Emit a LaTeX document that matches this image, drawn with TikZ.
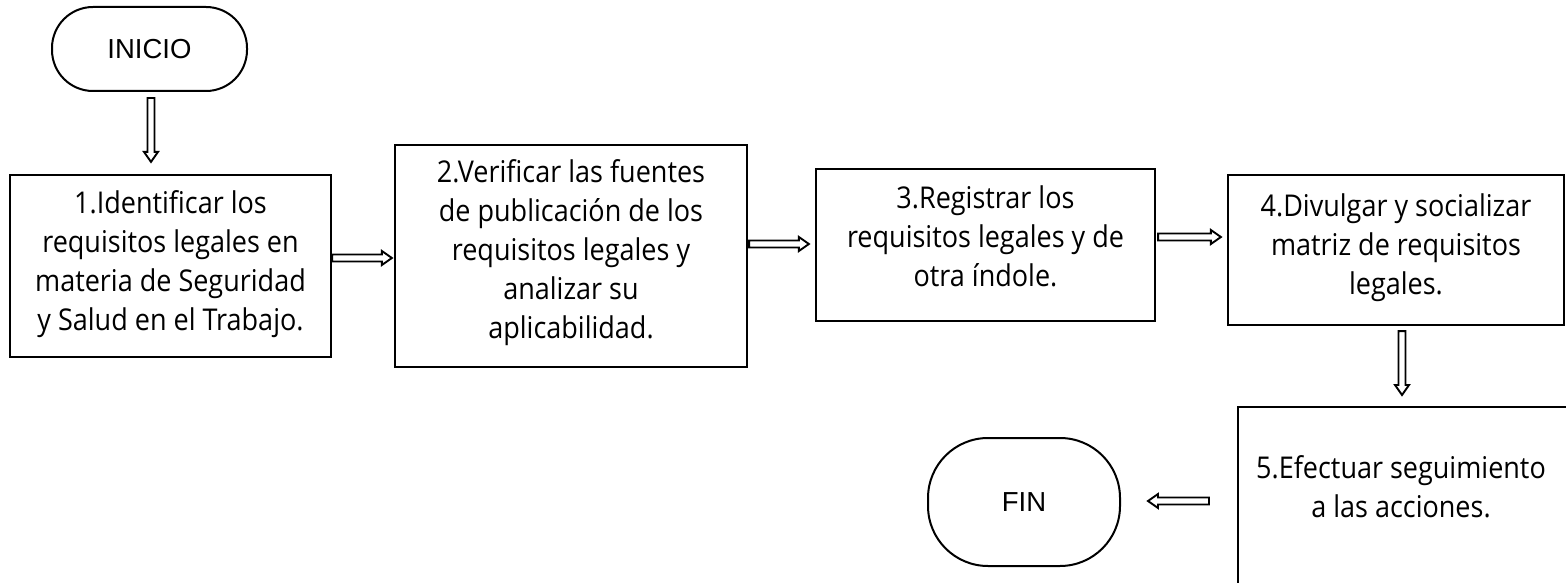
\documentclass[tikz,border=0pt]{standalone}
\usepackage{fontspec}
\setmainfont{Liberation Sans}
\newfontfamily\boxfont[FakeStretch=0.9]{Open Sans}
\usetikzlibrary{calc}
\begin{document}
\begin{tikzpicture}[x=1pt,y=-1pt,
  box/.style={draw, line width=2.2pt, rectangle, inner sep=0pt},
  boxtext/.style={font=\boxfont\fontsize{30}{39}\selectfont, align=center, inner sep=0pt},
  term/.style={draw, line width=2pt, rectangle, font=\fontsize{27.5}{30}\selectfont},
  blockarrow/.style={draw, line width=1.9pt, line join=miter,
    to path={let \p1=(\tikztostart), \p2=(\tikztotarget),
      \n1={veclen(\x2-\x1,\y2-\y1)}, \n2={atan2(\y2-\y1,\x2-\x1)} in
      ([shift={(\p1)},rotate=\n2]0pt,3.5pt)
      -- ([shift={(\p1)},rotate=\n2]{\n1-10pt},3.5pt)
      -- ([shift={(\p1)},rotate=\n2]{\n1-10pt},7pt)
      -- ([shift={(\p1)},rotate=\n2]{\n1},0pt)
      -- ([shift={(\p1)},rotate=\n2]{\n1-10pt},-7pt)
      -- ([shift={(\p1)},rotate=\n2]{\n1-10pt},-3.5pt)
      -- ([shift={(\p1)},rotate=\n2]0pt,-3.5pt) -- cycle}}]
\useasboundingbox (0,0) rectangle (1566,583);
\clip (0,0) rectangle (1566,583);

\node[term, rounded corners=41pt, minimum width=195pt, minimum height=84pt] (inicio) at (149.5,49) {INICIO};

\node[box, minimum width=321pt, minimum height=182pt,
  label={[boxtext, yshift=2pt]center:1.Identificar los\\requisitos legales en\\materia de Seguridad\\y Salud en el Trabajo.}] (b1) at (170.5,266) {};

\node[box, minimum width=352pt, minimum height=222pt,
  label={[boxtext, yshift=3.5pt]center:2.Verificar las fuentes\\de publicación de los\\requisitos legales y\\analizar su\\aplicabilidad.}] (b2) at (571,256) {};

\node[box, minimum width=339pt, minimum height=152pt,
  label={[boxtext, yshift=8.5pt]center:3.Registrar los\\requisitos legales y de\\otra índole.}] (b3) at (985.5,245) {};

\node[box, minimum width=336pt, minimum height=150pt,
  label={[boxtext, yshift=2.5pt]center:4.Divulgar y socializar\\matriz de requisitos\\legales.}] (b4) at (1396,250) {};

\node[box, anchor=north west, minimum width=370pt, minimum height=200pt] (b5) at (1237,406) {};
\node[boxtext] (b5t) at (1401,487) {5.Efectuar seguimiento\\a las acciones.};

\node[term, rounded corners=60pt, minimum width=192pt, minimum height=128pt] (fin) at (1024,502) {FIN};

\draw[blockarrow] ($(inicio.south)+(1.5,6)$) to ($(inicio.south |- b1.north)+(1.5,-12)$);
\draw[blockarrow] (b1.east |- 0,258) to ($(b2.west |- 0,258)+(-2,0)$);
\draw[blockarrow] ($(b2.east |- 0,244)+(1,0)$) to ($(b3.west |- 0,244)+(-6,0)$);
\draw[blockarrow] ($(b3.east |- 0,237)+(2,0)$) to ($(b4.west |- 0,237)+(-6,0)$);
\draw[blockarrow] ($(b4.south -| 1402,0)+(0,5)$) to ($(b5.north -| 1402,0)+(0,-11)$);
\draw[blockarrow] ($(b5.west |- 0,501)+(-28,0)$) to ($(fin.east |- 0,501)+(27,0)$);
\end{tikzpicture}
\end{document}
